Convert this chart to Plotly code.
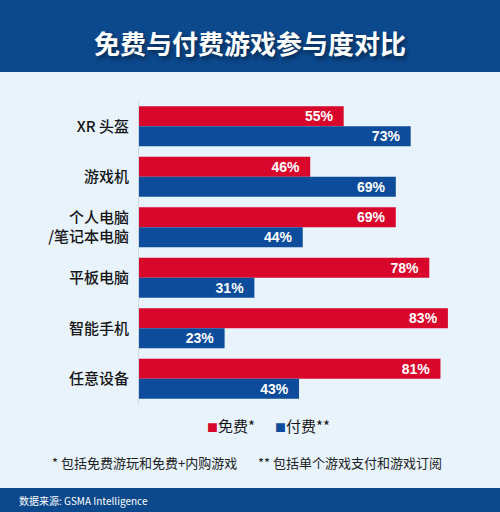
import plotly.graph_objects as go

# data
categories = ["XR 头盔", "游戏机", "个人电脑<br>/笔记本电脑", "平板电脑", "智能手机", "任意设备"]
free_pct = [55, 46, 69, 78, 83, 81]
paid_pct = [73, 69, 44, 31, 23, 43]
series_names = ["免费*", "付费**"]

W, H = 500, 512
RED = "#d9062b"
BLUE = "#0d4c9b"
NAVY = "#0b488c"
BG = "#e8f3fc"
CJK = "Noto Sans CJK SC"


def py(pix):
    # pixel row -> paper y
    return 1 - pix / H


bar_text = dict(color="white", size=14, family="Liberation Sans", weight="bold")
# non-breaking spaces keep the labels off the bar ends
label_fmt = "%{x}%\u00a0\u00a0"

fig = go.Figure()
fig.add_trace(go.Bar(
    y=categories, x=free_pct, name=series_names[0], orientation="h",
    marker=dict(color=RED, line=dict(width=0)),
    texttemplate=label_fmt, textposition="inside", insidetextanchor="end",
    constraintext="none", textfont=bar_text,
))
fig.add_trace(go.Bar(
    y=categories, x=paid_pct, name=series_names[1], orientation="h",
    marker=dict(color=BLUE, line=dict(width=0)),
    texttemplate=label_fmt, textposition="inside", insidetextanchor="end",
    constraintext="none", textfont=bar_text,
))

fig.update_layout(
    width=W, height=H,
    margin=dict(l=0, r=0, t=0, b=0),
    paper_bgcolor=BG, plot_bgcolor=BG,
    barmode="group", bargap=0.21, bargroupgap=0,
    showlegend=False,
    xaxis=dict(domain=[139 / W, 1], range=[0, 97], visible=False, fixedrange=True),
    yaxis=dict(
        domain=[py(404), py(101)], autorange="reversed",
        showline=True, linecolor="#cfd9e3", linewidth=1,
        showgrid=False, ticks="", ticklabelstandoff=6,
        tickfont=dict(family=CJK, size=15, color="#151515", weight=500),
    ),
)

# header and footer bands
fig.add_shape(type="rect", xref="paper", yref="paper", x0=0, x1=1, y0=py(72), y1=1,
              fillcolor=NAVY, line=dict(width=0), layer="below")
fig.add_shape(type="rect", xref="paper", yref="paper", x0=0, x1=1, y0=0, y1=py(488),
              fillcolor=NAVY, line=dict(width=0), layer="below")

fig.add_annotation(
    text="免费与付费游戏参与度对比", x=0.5, y=py(42), xref="paper", yref="paper",
    showarrow=False, xanchor="center", yanchor="middle",
    font=dict(family=CJK, size=26, color="white", weight="bold",
              shadow="2px 3px 4px rgba(0,0,0,0.45)"),
)

# legend
fig.add_annotation(
    text=f'<span style="color:{RED};font-size:11px">■</span>{series_names[0]}',
    x=205 / W, y=py(425),
    xref="paper", yref="paper", showarrow=False, xanchor="left", yanchor="middle",
    font=dict(family=CJK, size=15, color="#151515"),
)
fig.add_annotation(
    text=f'<span style="color:{BLUE};font-size:11px">■</span>{series_names[1]}',
    x=273 / W, y=py(425),
    xref="paper", yref="paper", showarrow=False, xanchor="left", yanchor="middle",
    font=dict(family=CJK, size=15, color="#151515"),
)

# footnotes
fig.add_annotation(
    text="* 包括免费游玩和免费+内购游戏", x=50 / W, y=py(462),
    xref="paper", yref="paper", showarrow=False, xanchor="left", yanchor="middle",
    font=dict(family=CJK, size=13, color="#222222"),
)
fig.add_annotation(
    text="** 包括单个游戏支付和游戏订阅", x=256 / W, y=py(462),
    xref="paper", yref="paper", showarrow=False, xanchor="left", yanchor="middle",
    font=dict(family=CJK, size=13, color="#222222"),
)

# source
fig.add_annotation(
    text="数据来源: GSMA Intelligence", x=17 / W, y=py(500),
    xref="paper", yref="paper", showarrow=False, xanchor="left", yanchor="middle",
    font=dict(family=CJK, size=10, color="white"),
)

# page has a default 8px body margin; drop it so the figure fills the window
fig.write_html("out.html", config={"displayModeBar": False},
               post_script="document.body.style.margin='0';")
